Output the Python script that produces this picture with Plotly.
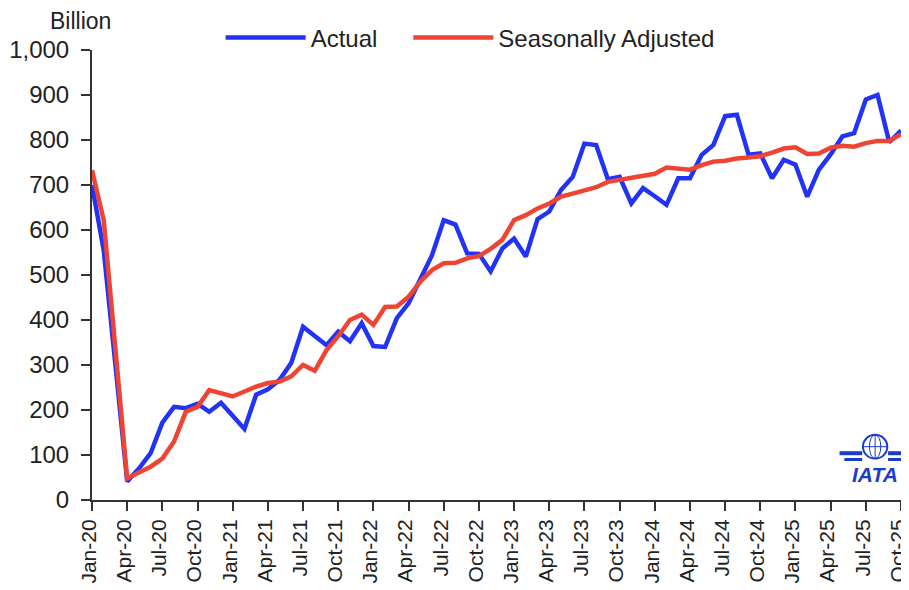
import plotly.graph_objects as go

months = ["Jan-20","Feb-20","Mar-20","Apr-20","May-20","Jun-20","Jul-20","Aug-20","Sep-20","Oct-20","Nov-20","Dec-20",
          "Jan-21","Feb-21","Mar-21","Apr-21","May-21","Jun-21","Jul-21","Aug-21","Sep-21","Oct-21","Nov-21","Dec-21",
          "Jan-22","Feb-22","Mar-22","Apr-22","May-22","Jun-22","Jul-22","Aug-22","Sep-22","Oct-22","Nov-22","Dec-22",
          "Jan-23","Feb-23","Mar-23","Apr-23","May-23","Jun-23","Jul-23","Aug-23","Sep-23","Oct-23","Nov-23","Dec-23",
          "Jan-24","Feb-24","Mar-24","Apr-24","May-24","Jun-24","Jul-24","Aug-24","Sep-24","Oct-24","Nov-24","Dec-24",
          "Jan-25","Feb-25","Mar-25","Apr-25","May-25","Jun-25","Jul-25","Aug-25","Sep-25","Oct-25"]

actual = [700, 555, 300, 41, 70, 104, 172, 207, 204, 214, 196, 216,
          187, 158, 234, 246, 267, 305, 385, 363, 344, 374, 353, 393,
          342, 340, 404, 437, 489, 544, 622, 612, 548, 547, 508, 559,
          581, 541, 624, 641, 689, 718, 792, 789, 713, 718, 659, 693,
          675, 656, 715, 715, 767, 789, 853, 856, 767, 770, 715, 756,
          745, 674, 734, 768, 808, 815, 890, 900, 795, 821]

seasonally_adjusted = [733, 622, 335, 48, 61, 74, 92, 130, 196, 207, 244, 238,
                       230, 241, 252, 260, 263, 275, 300, 287, 333, 364, 400, 412,
                       389, 429, 430, 452, 485, 511, 526, 527, 537, 542, 558, 578,
                       622, 633, 648, 659, 674, 681, 689, 695, 707, 711, 716, 719,
                       725, 739, 737, 734, 744, 752, 754, 759, 761, 764, 772, 781,
                       784, 769, 770, 783, 787, 785, 793, 798, 798, 813]

tick_labels = months[::3]
y_ticks = [0, 100, 200, 300, 400, 500, 600, 700, 800, 900, 1000]

FONT = "Liberation Sans"
BLUE = "#2233F5"
RED = "#EE4433"
LOGO = "#1a3ccc"

idx = list(range(len(months)))

fig = go.Figure()
fig.add_trace(go.Scatter(x=idx, y=actual, mode="lines", name="Actual", legend="legend",
                         line=dict(color=BLUE, width=4.5), customdata=months,
                         hovertemplate="%{customdata}: %{y}<extra></extra>"))
fig.add_trace(go.Scatter(x=idx, y=seasonally_adjusted, mode="lines", name="Seasonally Adjusted",
                         legend="legend2",
                         line=dict(color=RED, width=4.5), customdata=months,
                         hovertemplate="%{customdata}: %{y}<extra></extra>"))

legend_common = dict(orientation="h", xanchor="left", y=1.027, yanchor="middle",
                     font=dict(size=24, color="#222"), itemwidth=80,
                     bgcolor="rgba(0,0,0,0)")

fig.update_layout(
    width=909, height=590,
    margin=dict(l=84, r=16, t=42, b=98, autoexpand=False),
    paper_bgcolor="white", plot_bgcolor="white",
    font=dict(family=FONT, size=22, color="#222"),
    showlegend=True,
    legend=dict(x=0.159, **legend_common),
    legend2=dict(x=0.391, **legend_common),
    xaxis=dict(range=[0, 69], tickmode="array", tickvals=idx[::3], ticktext=tick_labels,
               tickangle=-90, showgrid=False, zeroline=False, showline=True,
               linecolor="#333", linewidth=2, ticks="outside", ticklen=9, tickwidth=1.5,
               tickcolor="#333", tickfont=dict(size=21, color="#222"),
               ticklabeloverflow="allow", ticklabelshift=-3, automargin=False),
    yaxis=dict(range=[0, 1000], tickvals=y_ticks, tickformat=",", showgrid=False,
               zeroline=False, showline=True, linecolor="#333", linewidth=2,
               ticks="outside", ticklen=9, tickwidth=1.5, tickcolor="#333",
               tickfont=dict(size=24, color="#222"), ticklabelstandoff=7,
               ticklabeloverflow="allow", automargin=False),
)

fig.add_annotation(text="Billion", xref="paper", yref="paper", x=-0.0148, y=1.064,
                   xanchor="center", yanchor="middle", showarrow=False,
                   font=dict(size=23, color="#222", family=FONT))

# IATA logo approximation
fig.add_annotation(text="<b><i>IATA</i></b>", xref="paper", yref="paper",
                   x=0.968, y=0.056, xanchor="center", yanchor="middle", showarrow=False,
                   font=dict(size=21, color=LOGO, family=FONT))
fig.add_shape(type="circle", xref="paper", yref="paper",
              x0=0.953, x1=0.983, y0=0.092, y1=0.145,
              line=dict(color=LOGO, width=2), fillcolor="rgba(0,0,0,0)")
fig.add_shape(type="line", xref="paper", yref="paper", x0=0.953, x1=0.983, y0=0.1185, y1=0.1185,
              line=dict(color=LOGO, width=1))
fig.add_shape(type="line", xref="paper", yref="paper", x0=0.968, x1=0.968, y0=0.092, y1=0.145,
              line=dict(color=LOGO, width=1))
fig.add_shape(type="circle", xref="paper", yref="paper", x0=0.961, x1=0.975, y0=0.092, y1=0.145,
              line=dict(color=LOGO, width=1), fillcolor="rgba(0,0,0,0)")
for (a, b, yy, w) in [(0.924, 0.952, 0.104, 4), (0.930, 0.952, 0.090, 3),
                      (0.984, 1.012, 0.104, 4), (0.984, 1.006, 0.090, 3)]:
    fig.add_shape(type="line", xref="paper", yref="paper", x0=a, x1=b, y0=yy, y1=yy,
                  line=dict(color=LOGO, width=w))

fig.write_html("out.html")
